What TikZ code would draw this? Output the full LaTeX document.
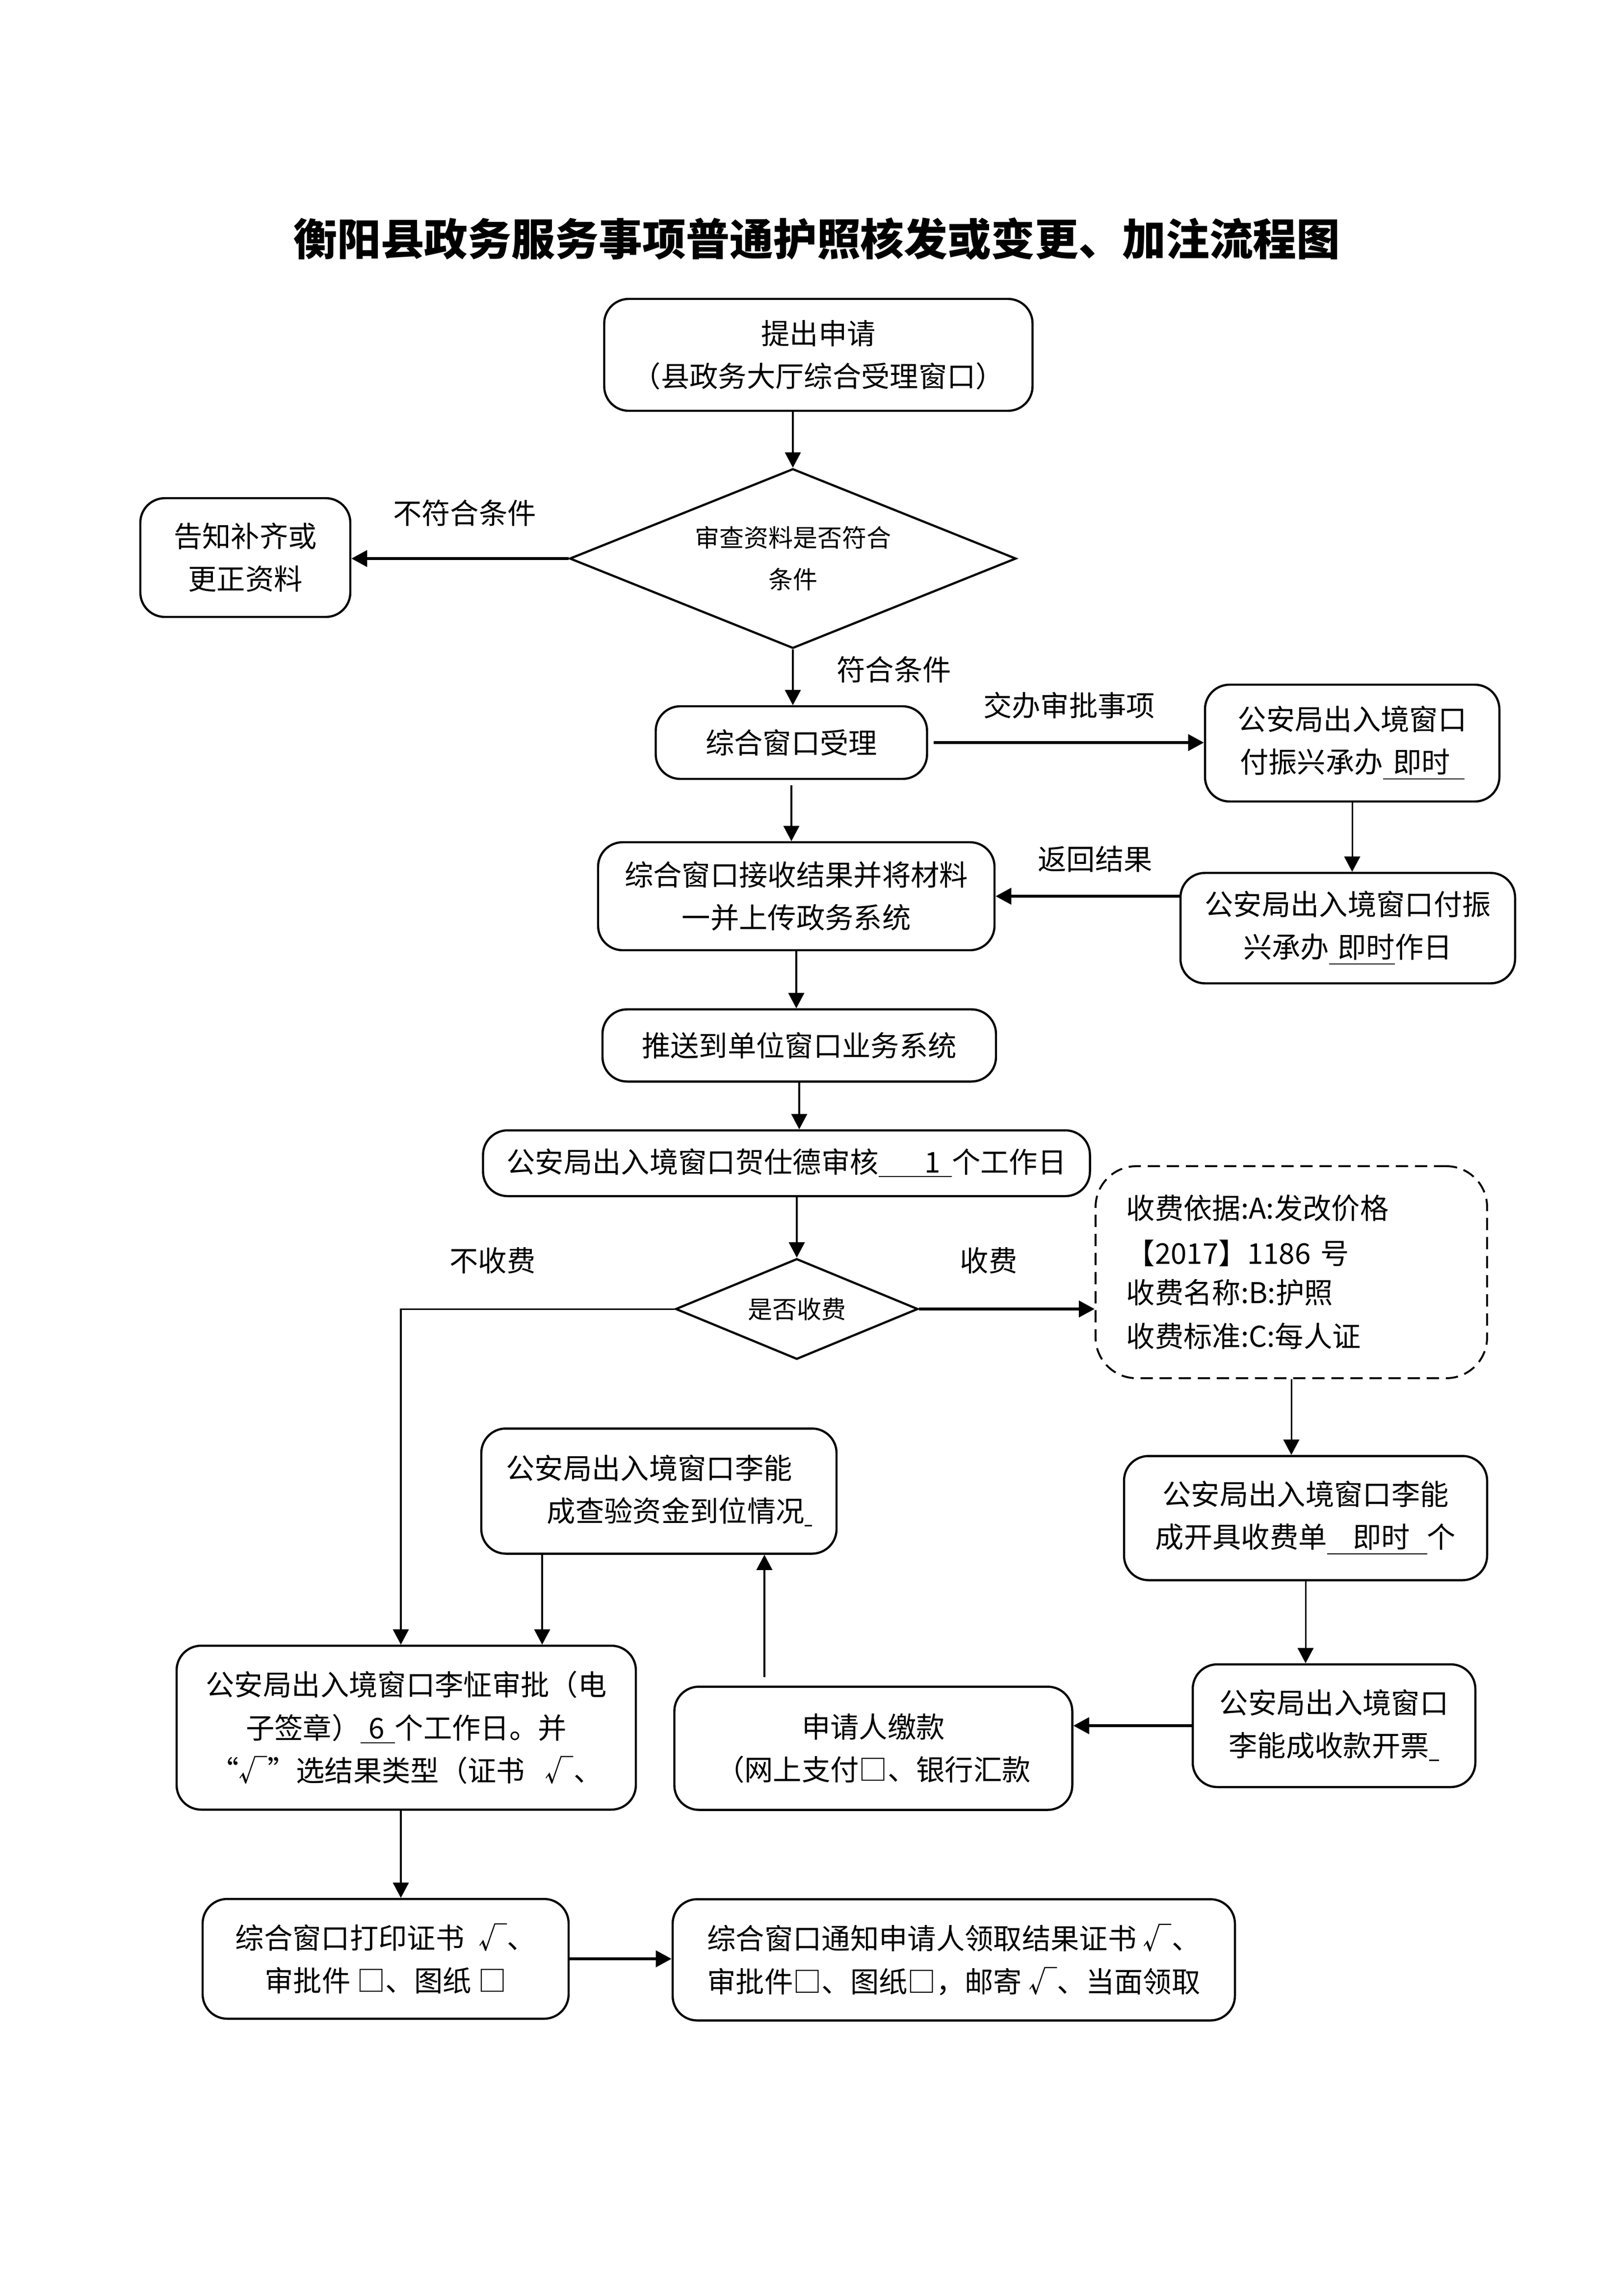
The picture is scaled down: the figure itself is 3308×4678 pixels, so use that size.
\documentclass[tikz,border=0pt]{standalone}
\usepackage{fontspec}
\setmainfont{Noto Sans CJK SC}
\usetikzlibrary{shapes.geometric,arrows.meta}
\begin{document}
\begin{tikzpicture}[x=0.18pt,y=-0.18pt,
  box/.style={draw,line width=0.8pt,rounded corners=9pt,align=center,inner sep=0pt,font=\fontsize{10.5pt}{15.7pt}\selectfont},
  sz/.style 2 args={minimum width=#1*0.18pt,minimum height=#2*0.18pt},
  dia/.style={draw,shape=diamond,line width=0.8pt,inner sep=0pt,align=center,font=\fontsize{9pt}{15.3pt}\selectfont},
  dashbox/.style={draw,line width=0.7pt,dash pattern=on 4.5pt off 2.5pt,rounded corners=15pt,align=left,inner sep=0pt,font=\fontsize{10.5pt}{15.7pt}\selectfont},
  lbl/.style={inner sep=0pt,font=\fontsize{10.5pt}{15.7pt}\selectfont},
  thinarr/.style={line width=0.55pt,-{Triangle[length=5.6pt,width=5.8pt]}},
  thickarr/.style={line width=1pt,-{Triangle[length=5.8pt,width=6pt]}}
]
\fill[white] (0,0) rectangle (3308,4678);
\useasboundingbox (0,0) rectangle (3308,4678);

% title
\node[inner sep=0pt,font=\bfseries\fontsize{16pt}{20pt}\selectfont] (title) at (1665,487) {衡阳县政务服务事项普通护照核发或变更、加注流程图};

% nodes
\node[box,sz={873}{228}] (b1) at (1668,723) {提出申请\\（县政务大厅综合受理窗口）};
\node[dia,aspect=2.49,sz={910}{366}] (d1) at (1616,1138) {审查资料是否符合\\条件};
\node[box,sz={428}{242}] (b2) at (500,1136) {告知补齐或\\更正资料};
\node[box,sz={553}{148}] (b3) at (1613,1513) {综合窗口受理};
\node[box,sz={600}{238}] (b4) at (2756,1514) {公安局出入境窗口\\付振兴承办\underline{\hspace{0.35em}即时\hspace{0.5em}}};
\node[box,sz={682}{225}] (b5) at (2747,1891) {公安局出入境窗口付振\\兴承办\underline{\hspace{0.3em}即时}作日};
\node[box,sz={808}{220}] (b6) at (1623,1826) {综合窗口接收结果并将材料\\一并上传政务系统};
\node[box,sz={802}{147}] (b7) at (1629,2130) {推送到单位窗口业务系统};
\node[box,sz={1237}{134}] (b8) at (1603,2370) {公安局出入境窗口贺仕德审核\underline{\hspace{1.6em}1\hspace{0.4em}}个工作日};
\node[dia,aspect=2.41,sz={494}{205}] (d2) at (1624,2667) {是否收费};
\node[dashbox,sz={798}{432},text width=121pt] (b9) at (2632,2592) {收费依据:A:发改价格\\[0.9pt]【2017】1186 号\\[-1.3pt]收费名称:B:护照\\[0.3pt]收费标准:C:每人证};
\node[box,sz={724}{255},align=left] (b10) at (1343,3038) {公安局出入境窗口李能\\\hspace*{1.43em}成查验资金到位情况\underline{\hspace{0.25em}}};
\node[box,sz={740}{253}] (b11) at (2661,3093) {公安局出入境窗口李能\\成开具收费单\underline{\hspace{0.9em}即时\hspace{0.6em}}个};
\node[box,sz={936}{334}] (b12) at (828,3520) {公安局出入境窗口李怔审批（电\\子签章）\underline{\hspace{0.3em}6\hspace{0.35em}}个工作日。并\\“√”选结果类型（证书\hspace{0.7em}√、};
\node[box,sz={811}{251}] (b13) at (1780,3562) {申请人缴款\\（网上支付□、银行汇款};
\node[box,sz={576}{250}] (b14) at (2719,3516) {公安局出入境窗口\\李能成收款开票\underline{\hspace{0.35em}}};
\node[box,sz={746}{244}] (b15) at (786,3991) {综合窗口打印证书\hspace{0.5em}√、\\审批件 □、图纸 □};
\node[box,sz={1146}{247},align=left] (b16) at (1944,3993) {综合窗口通知申请人领取结果证书 √、\\审批件□、图纸□，邮寄 √、当面领取};

% labels
\node[lbl] (l1) at (947,1045) {不符合条件};
\node[lbl] (l2) at (1822,1364) {符合条件};
\node[lbl] (l3) at (2179,1437) {交办审批事项};
\node[lbl] (l4) at (2232,1750) {返回结果};
\node[lbl] (l5) at (1004,2568) {不收费};
\node[lbl] (l6) at (2015,2568) {收费};

% helper coordinates
\coordinate (cx) at (817,0);
\coordinate (cu) at (1558,0);
\coordinate (cb) at (1105,0);

% connectors
\draw[thinarr] (b1.south -| d1.north) -- (d1.north);
\draw[thickarr] (d1.west) -- (d1.west -| b2.east);
\draw[thinarr] (d1.south) -- (d1.south |- b3.north);
\draw[thickarr,shorten <=2pt] (b3.east) -- (b3.east -| b4.west);
\draw[thinarr] (b4.south) -- (b4.south |- b5.north);
\draw[thickarr] (b6.east -| b5.west) -- (b6.east);
\draw[thinarr,shorten <=2pt] (b3.south) -- (b3.south |- b6.north);
\draw[thinarr] (b6.south) -- (b6.south |- b7.north);
\draw[thinarr] (b7.south) -- (b7.south |- b8.north);
\draw[thinarr] (b8.south -| d2.north) -- (d2.north);
\draw[thinarr] (d2.west) -| (cx |- b12.north);
\draw[thickarr] (d2.east) -- (d2.east -| b9.west);
\draw[thinarr] (b9.south) -- (b9.south |- b11.north);
\draw[thinarr] (b11.south) -- (b11.south |- b14.north);
\draw[thickarr] (b14.west) -- (b14.west -| b13.east);
\draw[thinarr,shorten <=3.2pt] (cu |- b13.north) -- (cu |- b10.south);
\draw[thinarr] (cb |- b10.south) -- (cb |- b12.north);
\draw[thinarr] (cx |- b12.south) -- (cx |- b15.north);
\draw[thickarr] (b15.east) -- (b15.east -| b16.west);
\end{tikzpicture}
\end{document}
